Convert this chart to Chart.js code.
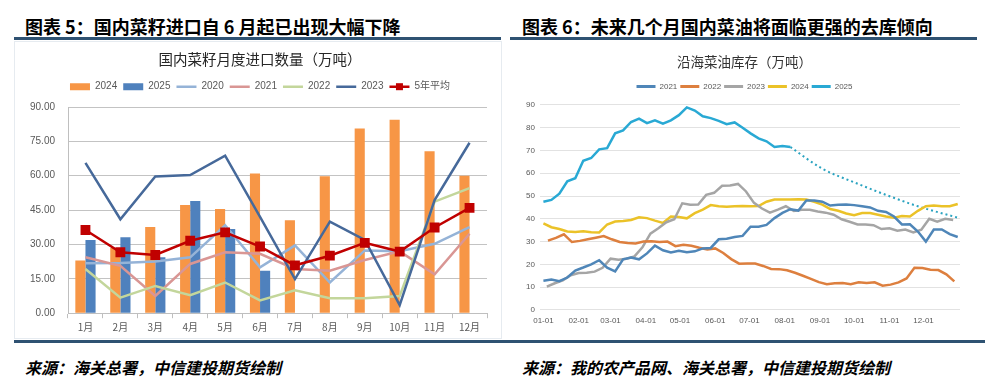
<!DOCTYPE html>
<html><head><meta charset="utf-8">
<script src="https://cdn.jsdelivr.net/npm/chart.js@4.4.1/dist/chart.umd.min.js"></script>
<style>
html,body{margin:0;padding:0;background:#fff;width:1000px;height:386px;overflow:hidden;position:relative;font-family:"Noto Sans CJK SC",sans-serif;}
.hd{position:absolute;top:14px;font-size:18px;font-weight:bold;color:#000;line-height:24px;white-space:nowrap;}
.rule{position:absolute;height:3px;background:#2F5272;}
.src{position:absolute;top:356px;font-size:16px;font-weight:bold;font-style:italic;color:#000;white-space:nowrap;line-height:22px;}
.box{position:absolute;}
</style></head>
<body>
<div class="hd" style="left:25px;">图表 5：国内菜籽进口自 6 月起已出现大幅下降</div>
<div class="hd" style="left:522px;">图表 6：未来几个月国内菜油将面临更强的去库倾向</div>
<div class="rule" style="left:14px;top:37px;width:487px;"></div>
<div class="rule" style="left:510px;top:37px;width:467px;"></div>
<div class="box" style="left:14px;top:41px;width:486px;height:296px;border:1px solid #E6EBF0;"></div>
<div class="box" style="left:14px;top:40px;width:488px;height:298px;"><canvas id="c1" width="488" height="298"></canvas></div>
<div class="box" style="left:512px;top:42px;width:465px;height:293px;"><canvas id="c2" width="465" height="293"></canvas></div>
<div class="rule" style="left:14px;top:340px;width:971px;"></div>
<div class="src" style="left:25px;">来源：海关总署，中信建投期货绘制</div>
<div class="src" style="left:522px;">来源：我的农产品网、海关总署，中信建投期货绘制</div>
<script>
// ---------- Chart 1 data ----------
const months = ['1月','2月','3月','4月','5月','6月','7月','8月','9月','10月','11月','12月'];
const imp2024 = [23, 28.5, 37.6, 47.2, 45.5, 61, 40.6, 59.8, 80.6, 84.4, 70.7, 60];
const imp2025 = [32, 33.2, 24.4, 49, 36.8, 18.5, null, null, null, null, null, null];
const imp2020 = [21.8, 21.9, 22.6, 24.4, 38.4, 20, 29.6, 13.4, 27.4, 27, 30.3, 37.6];
const imp2021 = [24.4, 20.7, 7.5, 21.5, 26.6, 25.9, 19.3, 18.5, 23.2, 27, 17, 34.7];
const imp2022 = [19.3, 6.8, 11.9, 7.9, 13.4, 5.6, 10, 6.5, 6.5, 7.5, 48.7, 54.6];
const imp2023 = [65.6, 41, 59.7, 60.3, 68.8, 42, 14.9, 40, 32, 3.5, 49.4, 74.4];
const imp5yr  = [36.3, 26.6, 25.4, 31.6, 35.3, 29.1, 20.9, 25.1, 30.7, 26.9, 37.4, 46];
const impTitle = '国内菜籽月度进口数量（万吨）';

// ---------- Chart 2 data ----------
const monthTickDays = [0, 31, 59, 90, 120, 151, 181, 212, 243, 273, 304, 334];
const monthTickLabels = ['01-01','02-01','03-01','04-01','05-01','06-01','07-01','08-01','09-01','10-01','11-01','12-01'];
const stockTitle = '沿海菜油库存（万吨）';
const start2021 = 0;
const stock2021 = [12.8,13.3,12.6,14.2,17.3,18.6,20,21.8,18.5,16.9,22.2,23,22.2,24.8,28.2,26.2,25.2,26,25.3,25.7,27,27.2,31,31.2,32,32.5,36.5,36.5,37.3,40.3,42.6,44.2,43.6,48,48,47.5,45.8,46.2,46.3,46,45.5,45,43.5,43,41,37.5,37.6,34.4,30,35.3,35.3,33.3,32];
const start2022 = 4;
const stock2022 = [30.4,31.6,33.2,29.8,30.3,31,31.7,32.4,31,29.8,29.4,29.2,30,30.1,29.8,30,28,28.6,28.2,27.3,26.5,27,25,22.3,20.3,20.4,20.4,19.3,18,17.9,17.4,16.3,15,13.6,12.2,11.3,11.7,11.8,11.3,12.1,11.8,12.1,10.6,11.1,12.1,13.8,18.5,18.4,17.6,17.5,15.6,12.5];
const start2023 = 3;
const stock2023 = [10.2,11.7,13,15.2,16.2,16.3,16.8,18.5,22.5,22,22.5,23.5,27.5,33.5,35.8,38.5,39.8,46.8,46.2,46.3,50.5,51.4,54.5,54.6,55.3,52,47,44.5,42.7,44,45.5,43.4,44,44,43.2,42.7,41.8,39.8,38.7,37.5,37.5,37.2,35.5,35.8,34.8,35.3,34,35.2,40,38.7,40,39.5];
const start2024 = 0;
const stock2024 = [38,36.3,35.5,34.4,34.2,34.5,34.1,34,37.5,38.8,39,39.5,40.7,40.3,39.2,38.2,41,40.8,40.2,42.5,44,46,45.5,45.3,45.5,45.6,45.5,45.6,47.5,48.5,48.5,48.5,48.6,48.5,47.5,46.2,44.3,43.5,42.3,41.6,42.5,42.5,41.8,41,40.5,41.2,41,43.5,45.5,45.8,45.5,45.5,46.5];
const start2025 = 0;
const stock2025 = [47.5,48.3,51,56.5,57.8,65.5,66.7,70.5,71,77.5,78.8,82.5,84,82,83.2,81.8,83.2,85.5,88.9,87.5,85,84.2,83,81.5,82.3,80,77.5,75.3,74,71.5,72,71.5];
const forecastDays = [217, 245, 273, 301, 329, 364];
const forecast2025 = [71.5, 62, 56, 50.5, 45.5, 40.5];

const SANS = '"Liberation Sans", "Noto Sans CJK SC", sans-serif';
const CJK = '"Noto Sans CJK SC", sans-serif';

function legendHeight(h){
  return { id:'legendHeight', beforeInit(chart){
    const orig = chart.legend.fit;
    chart.legend.fit = function(){ orig.bind(chart.legend)(); this.height = h; };
  }};
}
const spacerAxis = (w) => ({
  position:'right', display:true, min:0, max:1,
  grid:{display:false, drawTicks:false}, border:{display:false}, ticks:{display:false},
  afterFit:(s)=>{ s.width = w; }
});

// ---------- Chart 1 ----------
const markerPlugin = {
  id:'legendMarker',
  afterDraw(chart){
    const lg = chart.legend; if(!lg || !lg.legendItems) return;
    lg.legendItems.forEach((it, i) => {
      if (it.datasetIndex === 6) {
        const hb = lg.legendHitBoxes[i];
        const ctx = chart.ctx;
        ctx.save();
        ctx.fillStyle = '#C00000';
        const cx = hb.left + 10, cy = hb.top + hb.height/2;
        ctx.fillRect(cx-3.5, cy-3.5, 7, 7);
        ctx.restore();
      }
    });
  }
};
const lineDs = (label, data, color, order, w) => ({
  type:'line', label, data, borderColor:color, backgroundColor:color, borderWidth:w,
  pointRadius:0, pointHoverRadius:0, tension:0, order
});
new Chart(document.getElementById('c1'), {
  data:{
    labels: months,
    datasets:[
      {type:'bar', label:'2024', data:imp2024, backgroundColor:'#F79646', order:10, barPercentage:1, categoryPercentage:0.58},
      {type:'bar', label:'2025', data:imp2025, backgroundColor:'#4F81BD', order:10, barPercentage:1, categoryPercentage:0.58},
      lineDs('2020', imp2020, '#95B3D7', 5, 2.5),
      lineDs('2021', imp2021, '#D99694', 4, 2.5),
      lineDs('2022', imp2022, '#C3D69B', 3, 2.5),
      lineDs('2023', imp2023, '#46699A', 2, 2.5),
      {type:'line', label:'5年平均', data:imp5yr, borderColor:'#C00000', backgroundColor:'#C00000', borderWidth:2.5,
       pointStyle:'rect', pointRadius:5.2, pointBackgroundColor:'#C00000', pointBorderColor:'#C00000', tension:0, order:1}
    ]
  },
  options:{
    responsive:false, devicePixelRatio:1, animation:false,
    layout:{padding:{left:4, right:0, top:0, bottom:1.8}},
    plugins:{
      tooltip:{enabled:false},
      title:{display:true, text:impTitle, color:'#262626', font:{family:CJK, size:14.5, weight:'normal'}, padding:{top:10.3, bottom:8}},
      legend:{display:true, position:'top',
        labels:{
          usePointStyle:true, pointStyleWidth:20, boxHeight:7, padding:6, color:'#595959',
          font:{family:SANS, size:10},
          sort:(a,b)=>a.datasetIndex-b.datasetIndex,
          generateLabels:(chart)=>{
            const base = Chart.defaults.plugins.legend.labels.generateLabels(chart);
            return base.map(l => {
              const ds = chart.data.datasets[l.datasetIndex];
              if (ds.type === 'bar') { l.pointStyle='rect'; l.fillStyle=ds.backgroundColor; l.strokeStyle=ds.backgroundColor; l.lineWidth=0; }
              else { l.pointStyle='line'; l.strokeStyle=ds.borderColor; l.lineWidth=2.5; }
              return l;
            });
          }
        }
      }
    },
    scales:{
      x:{ grid:{display:true, drawOnChartArea:false, drawTicks:true, tickLength:5, color:'#BFBFBF', offset:true},
          border:{display:true, color:'#BFBFBF'},
          ticks:{padding:3, color:'#595959', font:{family:CJK, size:10}} },
      y:{ min:0, max:90,
          afterFit:(s)=>{ s.width = 50; },
          grid:{color:'#C3C3C3', drawTicks:false},
          border:{display:true, color:'#BFBFBF'},
          ticks:{stepSize:15, padding:13, color:'#595959', font:{family:SANS, size:10}, callback:(v)=>Number(v).toFixed(2)} },
      ySpacer: spacerAxis(15)
    }
  },
  plugins:[legendHeight(31.3), markerPlugin]
});

// ---------- Chart 2 ----------
const toXY = (vals, start) => vals.map((v,i)=>({x:start+7*i, y:v}));
const sLine = (label, vals, start, color) => ({
  label, data: toXY(vals, start), borderColor:color, backgroundColor:color, borderWidth:2.5,
  pointRadius:0, pointHoverRadius:0, tension:0
});
new Chart(document.getElementById('c2'), {
  type:'line',
  data:{ datasets:[
    sLine('2021', stock2021, start2021, '#4F86B8'),
    sLine('2022', stock2022, start2022, '#DD7F3E'),
    sLine('2023', stock2023, start2023, '#A5A5A5'),
    sLine('2024', stock2024, start2024, '#EBC228'),
    sLine('2025', stock2025, start2025, '#29A9D4'),
    { label:'预测', data: forecastDays.map((d,i)=>({x:d, y:forecast2025[i]})), borderColor:'#2AA3C0', borderWidth:2,
      borderDash:[2,3], pointRadius:0, tension:0.4, cubicInterpolationMode:'monotone' }
  ]},
  options:{
    responsive:false, devicePixelRatio:1, animation:false,
    layout:{padding:{left:0, right:0, top:0, bottom:2.5}},
    plugins:{
      tooltip:{enabled:false},
      title:{display:true, text:stockTitle, color:'#333333', font:{family:CJK, size:13.5, weight:'normal'}, padding:{top:12, bottom:9.4}},
      legend:{display:true, position:'top',
        labels:{ usePointStyle:true, pointStyleWidth:19, boxHeight:3, padding:3, color:'#595959',
          font:{family:SANS, size:8},
          filter:(it)=>it.datasetIndex < 5,
          generateLabels:(chart)=>{
            const base = Chart.defaults.plugins.legend.labels.generateLabels(chart);
            return base.map(l => { const ds = chart.data.datasets[l.datasetIndex]; l.pointStyle='line'; l.strokeStyle=ds.borderColor; l.lineWidth=3; l.lineDash=[]; return l; });
          }
        }
      }
    },
    scales:{
      x:{ type:'linear', min:-3, max:366,
          afterBuildTicks:(axis)=>{ axis.ticks = monthTickDays.map(v=>({value:v})); },
          grid:{display:false, drawTicks:false}, border:{display:false},
          ticks:{padding:6.5, autoSkip:false, maxRotation:0, color:'#595959', font:{family:SANS, size:8},
                 callback:(v)=>{ const k = monthTickDays.indexOf(v); return k>=0 ? monthTickLabels[k] : ''; }} },
      y:{ min:0, max:90,
          afterFit:(s)=>{ s.width = 28; },
          grid:{color:'#E2E2E2', drawTicks:false}, border:{display:false},
          ticks:{stepSize:10, padding:5, color:'#595959', font:{family:SANS, size:8}} },
      ySpacer: spacerAxis(17)
    }
  },
  plugins:[legendHeight(25.3)]
});
</script>
</body></html>
